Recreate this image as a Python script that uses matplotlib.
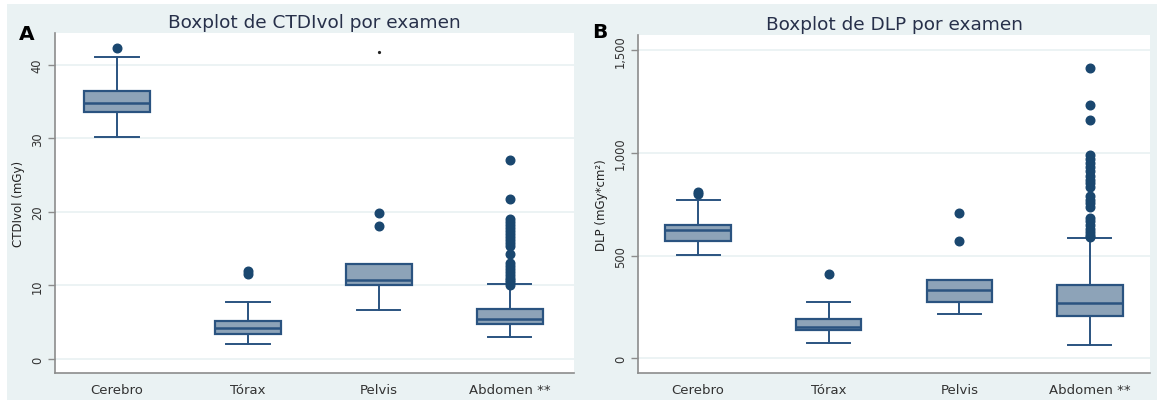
import matplotlib
matplotlib.use("Agg")
import matplotlib.pyplot as plt
from matplotlib.patches import Rectangle

# ---------------- data ----------------
categories = ["Cerebro", "Tórax", "Pelvis", "Abdomen **"]

# CTDIvol (mGy): whislo, q1, med, q3, whishi
ctdi_whislo = [30.2, 2.0, 6.7, 2.95]
ctdi_q1 = [33.5, 3.4, 10.0, 4.7]
ctdi_med = [34.8, 4.2, 10.7, 5.43]
ctdi_q3 = [36.4, 5.2, 12.85, 6.75]
ctdi_whishi = [41.1, 7.8, 12.9, 10.2]
ctdi_out_cerebro = [42.3]
ctdi_out_torax = [11.6, 11.9]
ctdi_out_pelvis = [19.8, 18.1]
ctdi_out_abdomen = [27.1, 21.8, 19.0, 18.6, 18.2, 17.8, 17.4, 17.0, 16.6,
                    16.2, 15.8, 15.4, 14.3, 13.0, 12.6, 12.2, 11.8, 11.4,
                    11.0, 10.7, 10.4, 10.1]
ctdi_artifact = [41.75]

# DLP (mGy*cm)
dlp_whislo = [505, 73, 214, 65]
dlp_q1 = [573, 138, 273, 208]
dlp_med = [625, 151, 334, 270]
dlp_q3 = [649, 192, 381, 357]
dlp_whishi = [771, 273, 383, 588]
dlp_out_cerebro = [800, 808]
dlp_out_torax = [411]
dlp_out_pelvis = [706, 573]
dlp_out_abdomen = [1415, 1234, 1160, 988, 970, 950, 930, 910, 890, 870, 852,
                   836, 790, 772, 755, 736, 685, 667, 650, 632, 615, 600, 590]

ctdi_ticks = [0, 10, 20, 30, 40]
ctdi_ticklabels = ["0", "10", "20", "30", "40"]
dlp_ticks = [0, 500, 1000, 1500]
dlp_ticklabels = ["0", "500", "1,000", "1,500"]

# ---------------- style ----------------
W, H = 1157, 402
BG = "#eaf2f3"
NAVY = "#1a476f"
BOXFILL = "#8da3b8"
EDGE = "#2a5380"
AXCOL = "#8c8c8c"
TITLECOL = "#27304a"
FONT = "DejaVu Sans"

fig = plt.figure(figsize=(W / 100, H / 100), dpi=100)
fig.patch.set_facecolor("white")
bg = Rectangle((7 / W, 1 / H), (W - 7) / W, (401 - 5) / H,
               transform=fig.transFigure, facecolor=BG,
               edgecolor="none", zorder=-10)
fig.patches.append(bg)


def make_stats(lo, q1, med, q3, hi, outs):
    stats = []
    for i in range(len(lo)):
        stats.append(dict(whislo=lo[i], q1=q1[i], med=med[i], q3=q3[i],
                          whishi=hi[i], fliers=outs[i]))
    return stats


def draw(ax, stats, ticks, ticklabels, ylim, xlim, ylabel, title):
    ax.set_facecolor("white")
    ax.bxp(stats, positions=range(1, len(stats) + 1), widths=0.5,
           capwidths=0.33, patch_artist=True, showfliers=True,
           boxprops=dict(facecolor=BOXFILL, edgecolor=EDGE, linewidth=1.6),
           medianprops=dict(color=EDGE, linewidth=1.8),
           whiskerprops=dict(color=EDGE, linewidth=1.4),
           capprops=dict(color=EDGE, linewidth=1.4),
           flierprops=dict(marker="o", markersize=6.2, markerfacecolor=NAVY,
                           markeredgecolor=NAVY, linestyle="none"))
    ax.set_xlim(*xlim)
    ax.set_ylim(*ylim)
    ax.set_yticks(ticks)
    ax.set_yticklabels(ticklabels, rotation=90, va="center",
                       fontsize=8.3, color="#333333", family=FONT)
    ax.set_xticks(range(1, len(categories) + 1))
    ax.set_xticklabels(categories, fontsize=9.5, color="#333333", family=FONT)
    ax.tick_params(axis="x", length=0, pad=7)
    ax.tick_params(axis="y", length=5, width=1, color=AXCOL, pad=3)
    ax.grid(axis="y", color=BG, linewidth=1.3, zorder=0)
    ax.set_axisbelow(True)
    for s in ("top", "right"):
        ax.spines[s].set_visible(False)
    for s in ("left", "bottom"):
        ax.spines[s].set_color(AXCOL)
        ax.spines[s].set_linewidth(1.2)
    ax.set_ylabel(ylabel, fontsize=8.5, color="#222222", family=FONT,
                  labelpad=4)
    ax.set_title(title, fontsize=13.3, color=TITLECOL, family=FONT, pad=4.5)


ax1 = fig.add_axes([55 / W, 28 / H, 519 / W, 340 / H])
ax2 = fig.add_axes([638 / W, 28 / H, 512 / W, 338 / H])

ctdi_stats = make_stats(ctdi_whislo, ctdi_q1, ctdi_med, ctdi_q3, ctdi_whishi,
                        [ctdi_out_cerebro, ctdi_out_torax, ctdi_out_pelvis,
                         ctdi_out_abdomen])
dlp_stats = make_stats(dlp_whislo, dlp_q1, dlp_med, dlp_q3, dlp_whishi,
                       [dlp_out_cerebro, dlp_out_torax, dlp_out_pelvis,
                        dlp_out_abdomen])

draw(ax1, ctdi_stats, ctdi_ticks, ctdi_ticklabels, (-1.9, 44.3),
     (0.527, 4.49), "CTDIvol (mGy)", "Boxplot de CTDIvol por examen")
ax1.plot([3] * len(ctdi_artifact), ctdi_artifact, "o", color="#222222",
         markersize=1.3)
draw(ax2, dlp_stats, dlp_ticks, dlp_ticklabels, (-72, 1575),
     (0.54, 4.46), "DLP (mGy*cm²)", "Boxplot de DLP por examen")

fig.text(27 / W, 1 - 34.5 / H, "A", fontsize=14.5, fontweight="bold",
         ha="center", va="center", family=FONT, color="black")
fig.text(600 / W, 1 - 32 / H, "B", fontsize=14.5, fontweight="bold",
         ha="center", va="center", family=FONT, color="black")

fig.savefig("out.png", dpi=100, facecolor="white")
